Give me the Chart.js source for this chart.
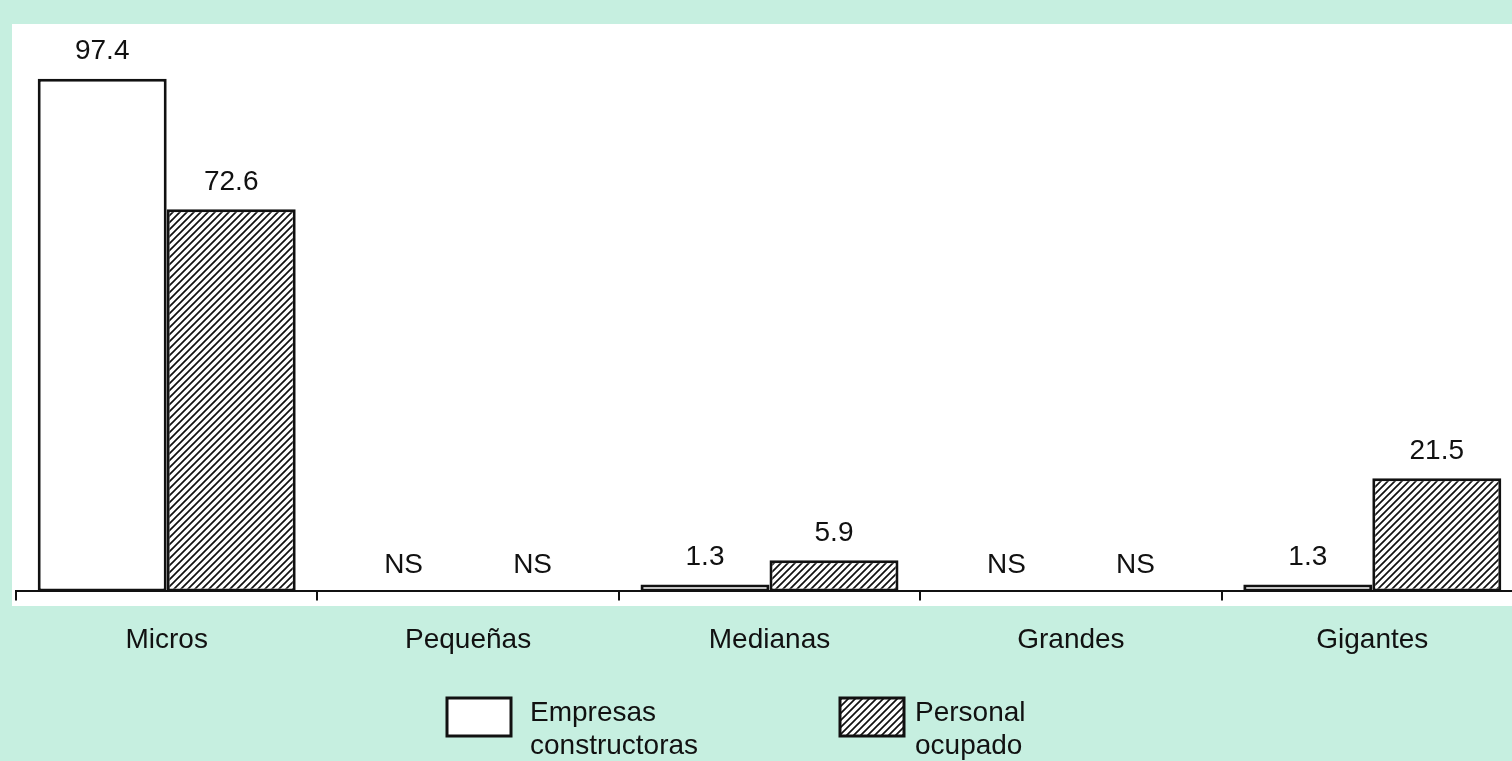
<!DOCTYPE html>
<html>
<head>
<meta charset="utf-8">
<script src="https://cdn.jsdelivr.net/npm/chart.js@4"></script>
<style>
  html, body { margin: 0; padding: 0; background: #c6efe0; overflow: hidden; }
  #wrap { width: 1523px; height: 761px; position: relative; }
</style>
</head>
<body>
<div id="wrap"><canvas id="myChart"></canvas></div>
<script>
const categories = ['Micros', 'Pequeñas', 'Medianas', 'Grandes', 'Gigantes'];
const empresas = [97.4, null, 1.3, null, 1.3];
const personal = [72.6, null, 5.9, null, 21.5];
const seriesNames = [['Empresas', 'constructoras'], ['Personal', 'ocupado']];

const FONT = '"Liberation Sans", Arial, sans-serif';
const MINT = '#c6efe0';

// diagonal hatch for the second series
function makeHatch() {
  const s = 7;
  const c = document.createElement('canvas');
  c.width = s; c.height = s;
  const g = c.getContext('2d');
  g.fillStyle = 'white';
  g.fillRect(0, 0, s, s);
  g.strokeStyle = '#111';
  g.lineWidth = 1.7;
  g.beginPath();
  g.moveTo(-1, s + 1); g.lineTo(s + 1, -1);
  g.moveTo(-1, 1); g.lineTo(1, -1);
  g.moveTo(s - 1, s + 1); g.lineTo(s + 1, s - 1);
  g.stroke();
  return g.createPattern(c, 'repeat');
}
const hatch = makeHatch();

const panel = {
  id: 'panel',
  beforeDraw(chart) {
    const ctx = chart.ctx;
    ctx.save();
    ctx.fillStyle = MINT;
    ctx.fillRect(0, 0, chart.width, chart.height);
    ctx.fillStyle = 'white';
    ctx.fillRect(12, 24, 1500, 582);
    ctx.restore();
  }
};

const valueLabels = {
  id: 'valueLabels',
  afterDatasetsDraw(chart) {
    const ctx = chart.ctx;
    const y0 = chart.scales.y.getPixelForValue(0);
    ctx.save();
    ctx.font = '28px ' + FONT;
    ctx.fillStyle = '#111';
    ctx.textAlign = 'center';
    ctx.textBaseline = 'middle';
    chart.data.datasets.forEach((ds, di) => {
      chart.getDatasetMeta(di).data.forEach((bar, i) => {
        const v = ds.data[i];
        if (v === null) {
          ctx.fillText('NS', bar.x, y0 - 26);
        } else {
          ctx.fillText(v.toFixed(1), bar.x, bar.y - 27);
        }
      });
    });
    ctx.restore();
  }
};

const boxLegend = {
  id: 'boxLegend',
  afterDraw(chart) {
    const ctx = chart.ctx;
    const spots = [{ x: 447, tx: 530 }, { x: 840, tx: 915 }];
    ctx.save();
    ctx.font = '28px ' + FONT;
    ctx.textBaseline = 'middle';
    chart.data.datasets.forEach((ds, di) => {
      const p = spots[di];
      ctx.fillStyle = ds.backgroundColor;
      ctx.fillRect(p.x, 698, 64, 38);
      ctx.lineWidth = 3;
      ctx.strokeStyle = '#111';
      ctx.strokeRect(p.x, 698, 64, 38);
      ctx.fillStyle = '#111';
      seriesNames[di].forEach((line, li) => {
        ctx.fillText(line, p.tx, 713 + li * 33);
      });
    });
    ctx.restore();
  }
};

const ctx = document.getElementById('myChart');

new Chart(ctx, {
  type: 'bar',
  data: {
    labels: categories,
    datasets: [{
      label: seriesNames[0].join(' '),
      data: empresas,
      backgroundColor: 'white',
      borderColor: '#111',
      borderWidth: 3,
      borderSkipped: false
    }, {
      label: seriesNames[1].join(' '),
      data: personal,
      backgroundColor: hatch,
      borderColor: '#111',
      borderWidth: 3,
      borderSkipped: false
    }]
  },
  plugins: [panel, valueLabels, boxLegend],
  options: {
    responsive: true,
    maintainAspectRatio: false,
    animation: false,
    datasets: {
      bar: { barPercentage: 1, categoryPercentage: 0.856 }
    },
    layout: {
      padding: { top: 65, left: 16, right: 0, bottom: 81 }
    },
    plugins: {
      legend: { display: false },
      tooltip: { enabled: false }
    },
    scales: {
      y: {
        display: false,
        min: 0,
        max: 100
      },
      x: {
        border: { display: true, color: '#111', width: 2 },
        grid: {
          drawOnChartArea: false,
          drawTicks: true,
          tickLength: 9,
          color: '#111',
          lineWidth: 2
        },
        ticks: {
          color: '#111',
          padding: 23,
          font: { family: FONT, size: 28 }
        }
      }
    }
  }
});
</script>
</body>
</html>
